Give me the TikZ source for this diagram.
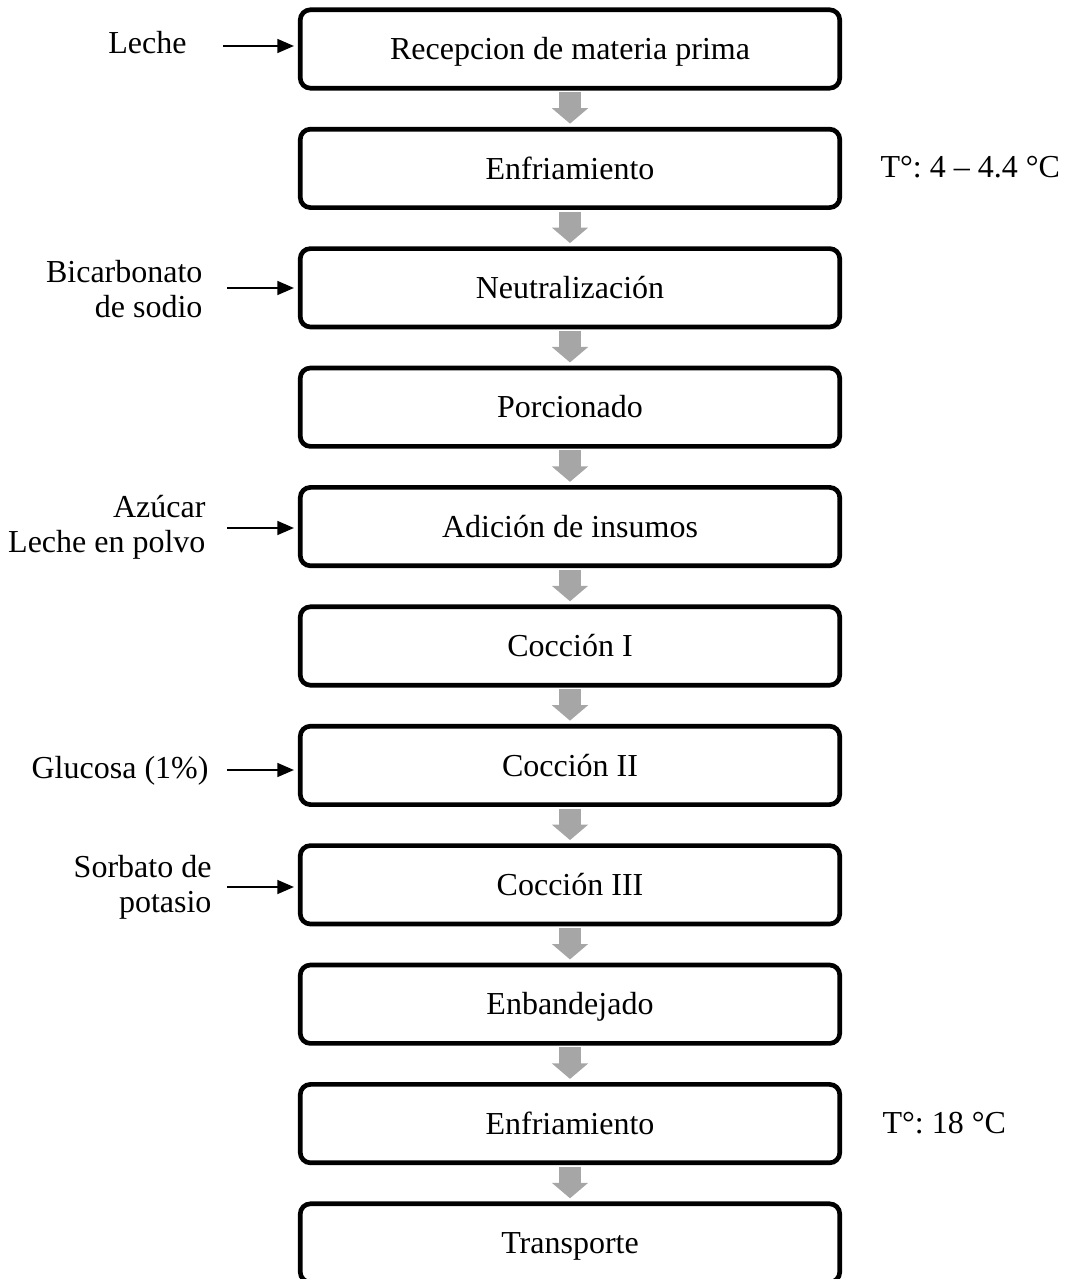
\documentclass[tikz,border=0pt]{standalone}
\usepackage{fontspec}
\setmainfont{Liberation Serif}
\usetikzlibrary{arrows.meta,calc}
\frenchspacing

\definecolor{flowgray}{RGB}{166,166,166}

\tikzset{
  stepbox/.style={draw=black, line width=1.75pt, rounded corners=3.8pt,
    minimum width=202.3pt, minimum height=29.4pt, inner sep=0pt,
    text height=9pt, text depth=1pt,
    font=\fontsize{12pt}{13.8pt}\selectfont},
  sidetext/.style={inner sep=0pt, align=right,
    font=\fontsize{12pt}{13.2pt}\selectfont},
  inarrow/.style={line width=0.65pt, shorten >=1.5pt,
    -{Triangle[length=6.2pt,width=5.2pt]}},
  flowarrow/.style={draw=flowgray, line width=8.25pt, shorten <=0.6pt, shorten >=1.2pt,
    -{Triangle[length=5.8pt,width=13.3pt]}, flowgray}
}

\begin{document}
\begin{tikzpicture}[x=0.375pt, y=-0.375pt]
  \useasboundingbox (0,0) rectangle (1064,1279);

  % process steps
  \node[stepbox] (b1)  at (570,49)     {Recepcion de materia prima};
  \node[stepbox] (b2)  at (570,168.4)  {Enfriamiento};
  \node[stepbox] (b3)  at (570,287.8)  {Neutralización};
  \node[stepbox] (b4)  at (570,407.2)  {Porcionado};
  \node[stepbox] (b5)  at (570,526.6)  {Adición de insumos};
  \node[stepbox] (b6)  at (570,646)    {Cocción I};
  \node[stepbox] (b7)  at (570,765.4)  {Cocción II};
  \node[stepbox] (b8)  at (570,884.8)  {Cocción III};
  \node[stepbox] (b9)  at (570,1004.2) {Enbandejado};
  \node[stepbox] (b10) at (570,1123.6) {Enfriamiento};
  \node[stepbox] (b11) at (570,1243)   {Transporte};

  % flow between steps
  \foreach \a/\b in {b1/b2,b2/b3,b3/b4,b4/b5,b5/b6,b6/b7,b7/b8,b8/b9,b9/b10,b10/b11}
    \draw[flowarrow] (\a.south) -- (\b.north);

  % inputs
  \node[sidetext, anchor=east] (in1) at (187,43)  {Leche};
  \node[sidetext, anchor=east] (in3) at (203,289) {Bicarbonato\\de sodio};
  \node[sidetext, anchor=east] (in5) at (206,527) {Azúcar\\Leche en polvo};
  \node[sidetext, anchor=east] (in7) at (209,771) {Glucosa (1\%)};
  \node[sidetext, anchor=east] (in8) at (212,887) {Sorbato de\\potasio};

  \coordinate (s1) at (223,46);
  \coordinate (s3) at (227,288);
  \coordinate (s5) at (227,528);
  \coordinate (s7) at (227,770);
  \coordinate (s8) at (227,887);
  \draw[inarrow] (s1) -- (s1 -| b1.west);
  \draw[inarrow] (s3) -- (s3 -| b3.west);
  \draw[inarrow] (s5) -- (s5 -| b5.west);
  \draw[inarrow] (s7) -- (s7 -| b7.west);
  \draw[inarrow] (s8) -- (s8 -| b8.west);

  % conditions
  \node[sidetext, anchor=west] (t2)  at (880,167)  {T°: 4 – 4.4 °C};
  \node[sidetext, anchor=west] (t10) at (882,1123) {T°: 18 °C};
\end{tikzpicture}
\end{document}
